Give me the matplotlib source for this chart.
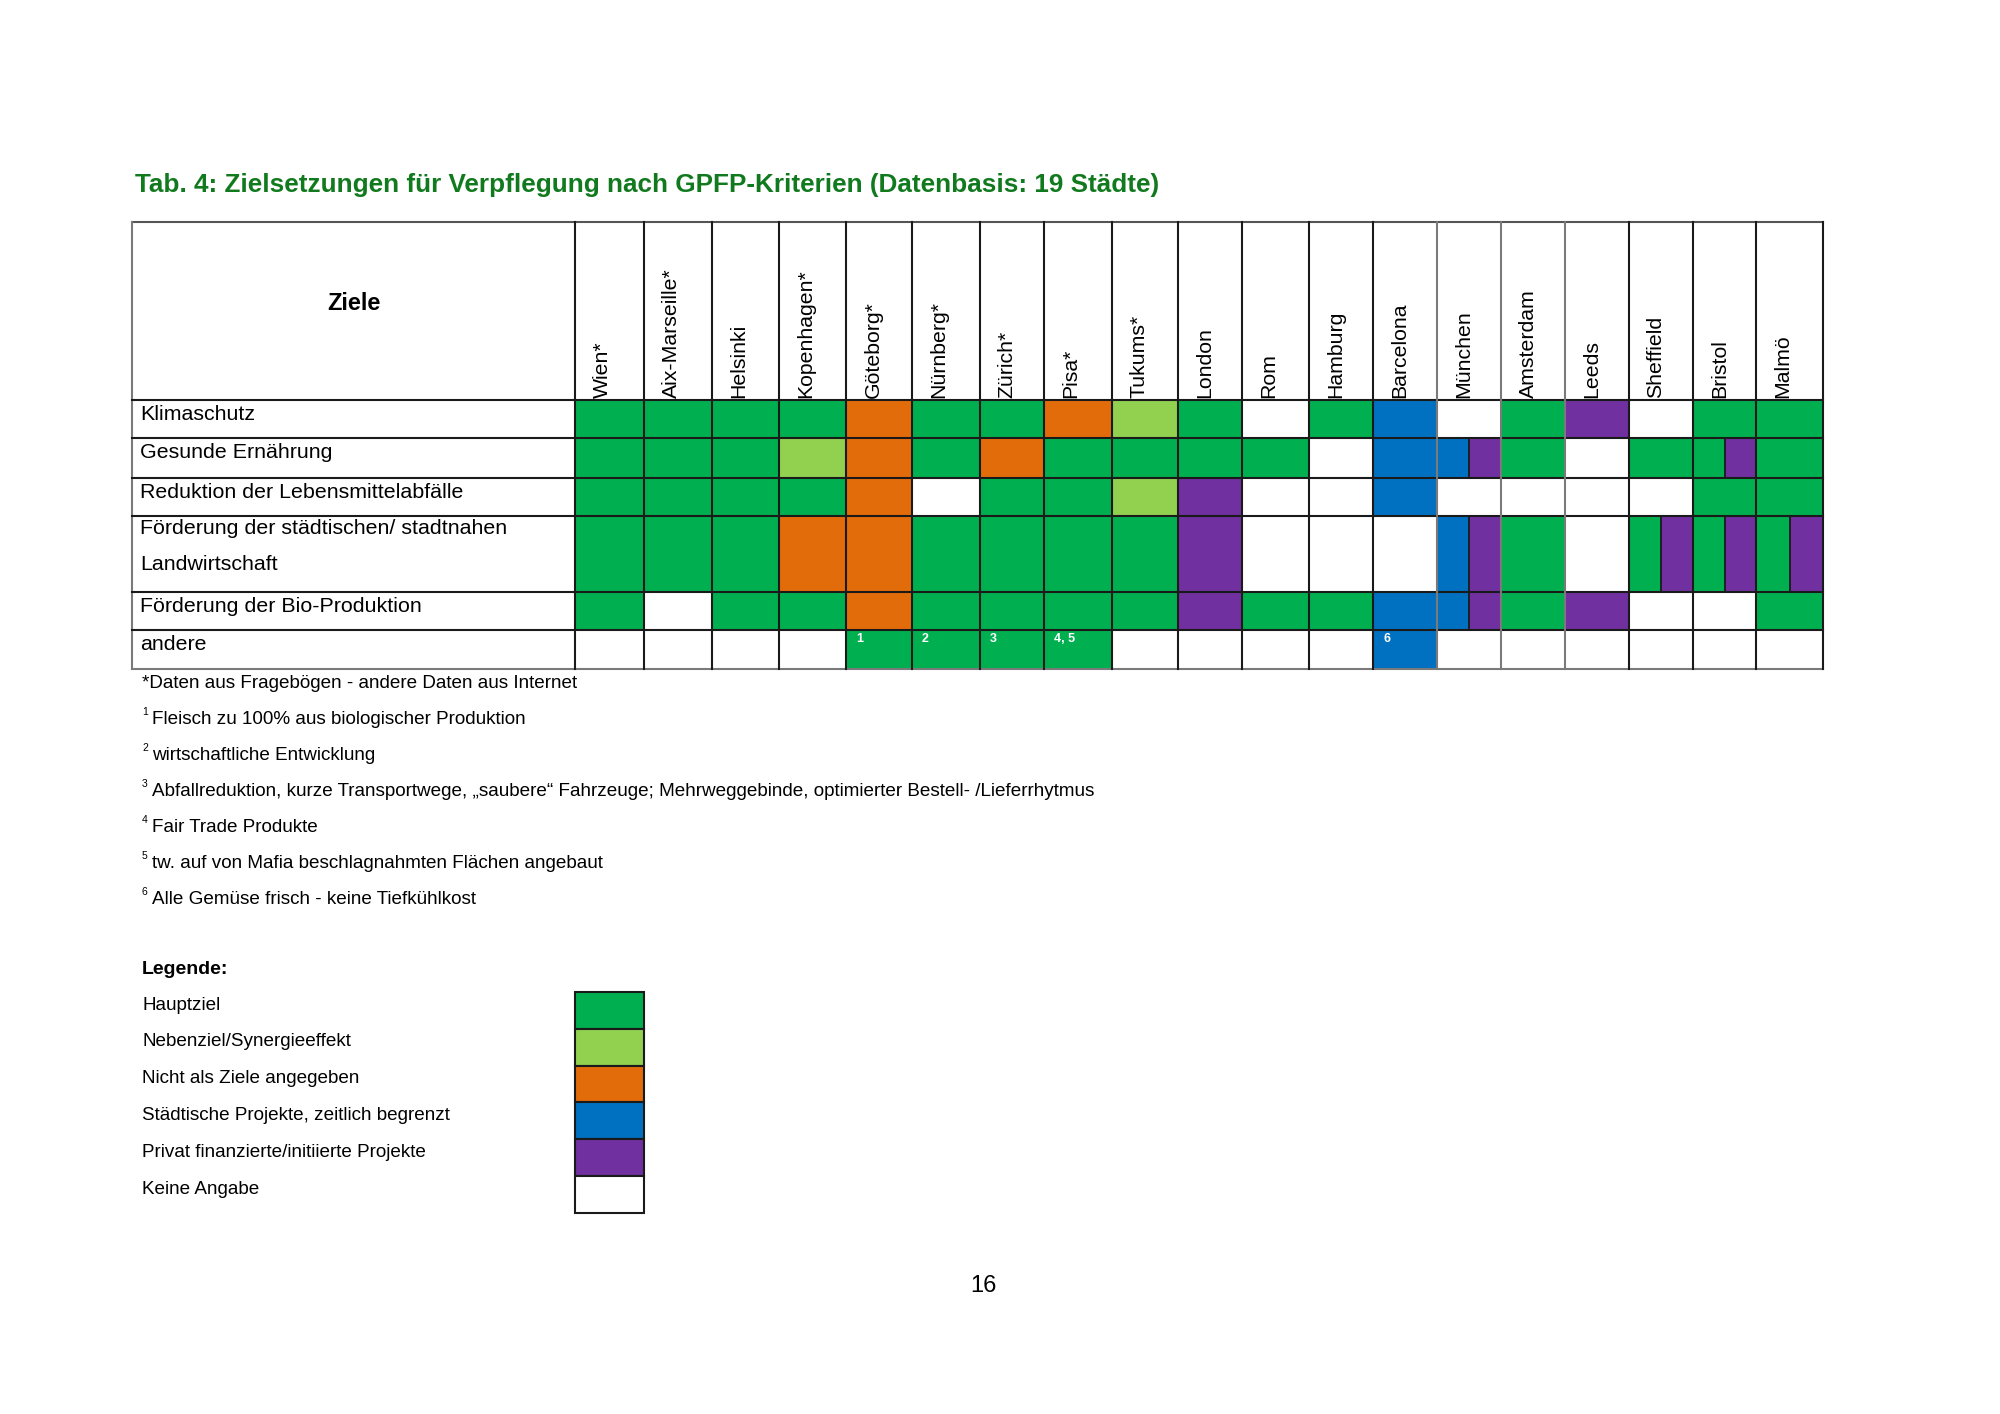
import matplotlib.pyplot as plt
from matplotlib.patches import Rectangle

plt.rcParams['font.family'] = ['Liberation Sans', 'DejaVu Sans']

# Daten
staedte = ['Wien*', 'Aix-Marseille*', 'Helsinki', 'Kopenhagen*', 'Göteborg*', 'Nürnberg*',
           'Zürich*', 'Pisa*', 'Tukums*', 'London', 'Rom', 'Hamburg', 'Barcelona', 'München',
           'Amsterdam', 'Leeds', 'Sheffield', 'Bristol', 'Malmö']
ziele = ['Klimaschutz', 'Gesunde Ernährung', 'Reduktion der Lebensmittelabfälle',
         'Förderung der städtischen/ stadtnahen\nLandwirtschaft', 'Förderung der Bio-Produktion',
         'andere']

# H = Hauptziel, N = Nebenziel, X = nicht angegeben, S = städtisch, P = privat, '' = keine Angabe
# "A|B" = Zelle geteilt
klimaschutz = ['H', 'H', 'H', 'H', 'X', 'H', 'H', 'X', 'N', 'H', '', 'H', 'S', '', 'H', 'P', '', 'H', 'H']
gesund = ['H', 'H', 'H', 'N', 'X', 'H', 'X', 'H', 'H', 'H', 'H', '', 'S', 'S|P', 'H', '', 'H', 'H|P', 'H']
abfall = ['H', 'H', 'H', 'H', 'X', '', 'H', 'H', 'N', 'P', '', '', 'S', '', '', '', '', 'H', 'H']
landwirtschaft = ['H', 'H', 'H', 'X', 'X', 'H', 'H', 'H', 'H', 'P', '', '', '', 'S|P', 'H', '', 'H|P', 'H|P', 'H|P']
bio = ['H', '', 'H', 'H', 'X', 'H', 'H', 'H', 'H', 'P', 'H', 'H', 'S', 'S|P', 'H', 'P', '', '', 'H']
andere = ['', '', '', '', 'H', 'H', 'H', 'H', '', '', '', '', 'S', '', '', '', '', '', '']
andere_fussnote = ['', '', '', '', '1', '2', '3', '4, 5', '', '', '', '', '6', '', '', '', '', '', '']
werte = [klimaschutz, gesund, abfall, landwirtschaft, bio, andere]

legende_codes = ['H', 'N', 'X', 'S', 'P', '']
legende_text = ['Hauptziel', 'Nebenziel/Synergieeffekt', 'Nicht als Ziele angegeben',
                'Städtische Projekte, zeitlich begrenzt', 'Privat finanzierte/initiierte Projekte',
                'Keine Angabe']

fussnoten_nr = ['1', '2', '3', '4', '5', '6']
fussnoten = ['Fleisch zu 100% aus biologischer Produktion',
             'wirtschaftliche Entwicklung',
             'Abfallreduktion, kurze Transportwege, „saubere“ Fahrzeuge; Mehrweggebinde, optimierter Bestell- /Lieferrhytmus',
             'Fair Trade Produkte',
             'tw. auf von Mafia beschlagnahmten Flächen angebaut',
             'Alle Gemüse frisch - keine Tiefkühlkost']

farben = {'H': '#00B050', 'N': '#92D050', 'X': '#E36C0A', 'S': '#0070C0', 'P': '#7030A0', '': 'white'}

# Layout (Pixel)
links, oben = 132, 222
spalten = [575, 644, 712, 779, 846, 912, 980, 1044, 1112, 1178, 1242, 1309, 1373,
           1437, 1501, 1565, 1629, 1693, 1756, 1823]
zeilen = [400, 438, 478, 516, 592, 630, 669]
linie = '#1a1a1a'
grau = '#7a7a7a'

fig = plt.figure(figsize=(20, 14.14), dpi=100)
ax = fig.add_axes([0, 0, 1, 1])
ax.set_xlim(0, 2000)
ax.set_ylim(1414, 0)
ax.axis('off')

ax.text(135, 185, 'Tab. 4: Zielsetzungen für Verpflegung nach GPFP-Kriterien (Datenbasis: 19 Städte)',
        fontsize=18.8, fontweight='bold', color='#127A1E', va='center', ha='left')

# Zellen
for r, reihe in enumerate(werte):
    y0, y1 = zeilen[r], zeilen[r + 1]
    for c, code in enumerate(reihe):
        x0, x1 = spalten[c], spalten[c + 1]
        teile = code.split('|')
        w = (x1 - x0) / len(teile)
        for k, t in enumerate(teile):
            ax.add_patch(Rectangle((x0 + k * w, y0), w, y1 - y0, facecolor=farben[t], edgecolor='none'))
        if len(teile) > 1:
            ax.plot([x0 + w, x0 + w], [y0, y1], color=linie, lw=1.3)

for c, nr in enumerate(andere_fussnote):
    if nr:
        ax.text(spalten[c] + 10, zeilen[5] + 3, nr, fontsize=9, fontweight='bold', color='white',
                va='top', ha='left')

# Gitter
ax.plot([links, spalten[-1]], [oben, oben], color='#555555', lw=1.5)
ax.plot([links, links], [oben, zeilen[-1]], color=grau, lw=1.5)
ax.plot([links, spalten[-1]], [zeilen[-1], zeilen[-1]], color=grau, lw=1.5)
for y in zeilen[:-1]:
    ax.plot([links, spalten[-1]], [y, y], color=linie, lw=1.5)
for i, x in enumerate(spalten):
    farbe = grau if i in (13, 14, 15) else linie
    ax.plot([x, x], [oben, zeilen[-1]], color=farbe, lw=1.5)

# Kopf
ax.text((links + spalten[0]) / 2, 304, 'Ziele', fontsize=17, fontweight='bold', ha='center', va='center')
for c, name in enumerate(staedte):
    ax.text(spalten[c] + 27, zeilen[0] - 2, name, rotation=90, fontsize=15.3,
            ha='center', va='bottom')

for r, name in enumerate(ziele):
    if '\n' in name:
        ax.text(140, zeilen[r] + 3, name, fontsize=15.4, ha='left', va='top', linespacing=2.1)
    else:
        ax.text(140, zeilen[r] + 15, name, fontsize=15.4, ha='left', va='center')

# Fussnoten
ax.text(142, 684, '*Daten aus Fragebögen - andere Daten aus Internet', fontsize=13.6,
        va='center', ha='left')
for i, (nr, txt) in enumerate(zip(fussnoten_nr, fussnoten)):
    y = 720 + i * 36
    ax.text(142, y - 8, nr, fontsize=7.5, va='center', ha='left')
    ax.text(152, y, txt, fontsize=13.6, va='center', ha='left')

# Legende
ax.text(142, 969, 'Legende:', fontsize=14, fontweight='bold', va='center', ha='left')
box_y, box_h = 992, 36.8
for i, (code, txt) in enumerate(zip(legende_codes, legende_text)):
    y0 = box_y + i * box_h
    ax.add_patch(Rectangle((spalten[0], y0), spalten[1] - spalten[0], box_h,
                           facecolor=farben[code], edgecolor=linie, lw=1.5))
    ax.text(142, y0 + 13, txt, fontsize=13.6, va='center', ha='left')

ax.text(983, 1286, '16', fontsize=17, ha='center', va='center')

fig.savefig('out.png', dpi=100, facecolor='white')
